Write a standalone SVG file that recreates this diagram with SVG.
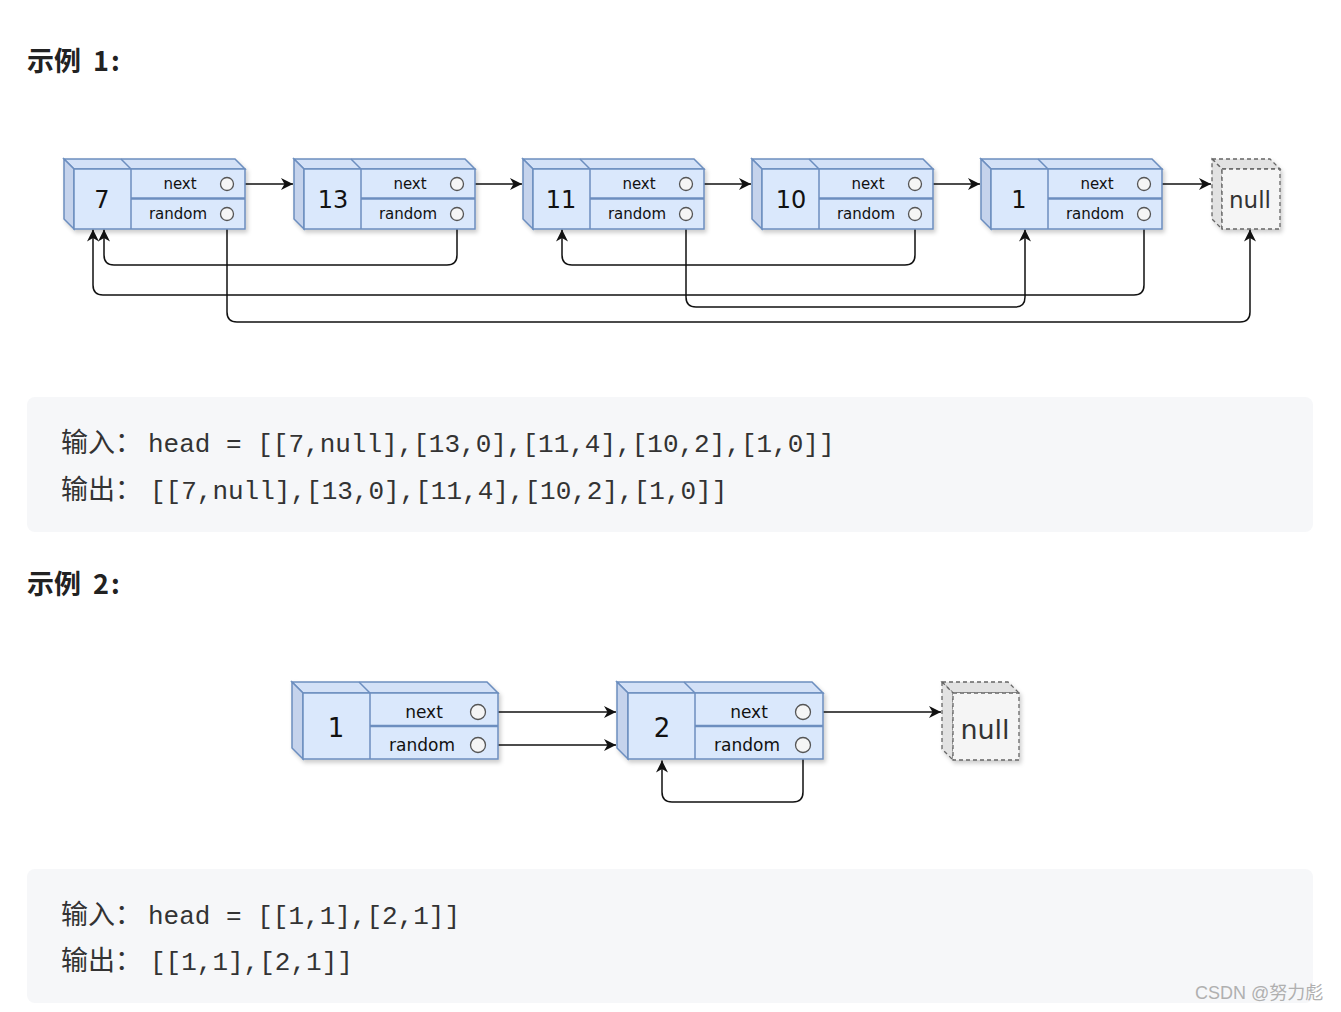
<svg xmlns="http://www.w3.org/2000/svg" xmlns:xlink="http://www.w3.org/1999/xlink" width="1341" height="1012" viewBox="0 0 1341 1012">
<style>
.h{font-family:"Noto Sans CJK SC","Noto Sans",sans-serif;font-size:27px;font-weight:bold;fill:#222}
.cbox{fill:#f6f7f9}
.cj{font-family:"Noto Sans CJK SC",sans-serif;font-size:27px;fill:#333}
.mono{font-family:"Liberation Mono","DejaVu Sans Mono",monospace;font-size:26px;fill:#333}
.face{fill:#dae8fc;stroke:#6c8ebf;stroke-width:1.5}
.top{fill:#d3e1f7;stroke:#6c8ebf;stroke-width:1.5}
.side{fill:#c5d3ec;stroke:#6c8ebf;stroke-width:1.5}
.ln{stroke:#6c8ebf;stroke-width:1.5;fill:none}
.ln2{stroke:#6c8ebf;stroke-width:2.5;fill:none}
.dot{fill:#f5f5f5;stroke:#555;stroke-width:1.3}
.nf{fill:#f5f5f5;stroke:#666;stroke-width:1.3;stroke-dasharray:4 3}
.ns{fill:#e2e2e2;stroke:#666;stroke-width:1.3;stroke-dasharray:4 3}
.val{font-family:"DejaVu Sans","Noto Sans",sans-serif;fill:#111;text-anchor:middle;dominant-baseline:central}
.lab{font-family:"DejaVu Sans","Noto Sans",sans-serif;fill:#111;text-anchor:middle;dominant-baseline:central}
.nul{font-family:"DejaVu Sans","Noto Sans",sans-serif;fill:#333;text-anchor:middle;dominant-baseline:central}
.c{fill:none;stroke:#111;stroke-width:1.5;marker-end:url(#arr)}
.wm{font-family:"Liberation Sans","Noto Sans CJK SC",sans-serif;font-size:18px;fill:#b0b0b0}
</style>
<defs>
<marker id="arr" markerWidth="13" markerHeight="12" refX="12" refY="6" orient="auto" markerUnits="userSpaceOnUse">
<path d="M0,0 L12,6 L0,12 L3.5,6 Z" fill="#111"/>
</marker>
<filter id="sh" x="-10%" y="-10%" width="130%" height="140%">
<feDropShadow dx="2" dy="3" stdDeviation="2" flood-color="#000" flood-opacity="0.2"/>
</filter>
<g id="cube1">
<g filter="url(#sh)">
<polygon class="top" points="0,0 171,0 181,10 10,10"/>
<polygon class="side" points="0,0 10,10 10,70 0,60"/>
<rect class="face" x="10" y="10" width="171" height="60"/>
</g>
<line class="ln" x1="57" y1="0" x2="67" y2="10"/>
<line class="ln" x1="67" y1="10" x2="67" y2="70"/>
<line class="ln2" x1="67" y1="39.5" x2="181" y2="39.5"/>
<circle class="dot" cx="163" cy="25" r="6.5"/>
<circle class="dot" cx="163" cy="55" r="6.5"/>
</g>
<g id="cube2">
<g filter="url(#sh)">
<polygon class="top" points="0,0 195,0 206,11 11,11"/>
<polygon class="side" points="0,0 11,11 11,77 0,66"/>
<rect class="face" x="11" y="11" width="195" height="66"/>
</g>
<line class="ln" x1="67" y1="0" x2="78" y2="11"/>
<line class="ln" x1="78" y1="11" x2="78" y2="77"/>
<line class="ln2" x1="78" y1="44" x2="206" y2="44"/>
<circle class="dot" cx="186" cy="30" r="7.5"/>
<circle class="dot" cx="186" cy="63" r="7.5"/>
</g>
</defs>
<rect width="1341" height="1012" fill="#fff"/>

<text class="h" x="27" y="71">示例<tspan x="93">1</tspan><tspan x="111">:</tspan></text>

<g id="connectors1">
<path class="c" d="M233.5,184 H293"/>
<path class="c" d="M463.5,184 H522"/>
<path class="c" d="M692.5,184 H751"/>
<path class="c" d="M921.5,184 H980"/>
<path class="c" d="M1150.5,184 H1211"/>
<path class="c" d="M457,220.5 V255 Q457,265 447,265 H114 Q104,265 104,255 V229.5"/>
<path class="c" d="M227,220.5 V312 Q227,322 237,322 H1240 Q1250,322 1250,312 V229.5"/>
<path class="c" d="M686,220.5 V297 Q686,307 696,307 H1015 Q1025,307 1025,297 V229.5"/>
<path class="c" d="M915,220.5 V255 Q915,265 905,265 H572 Q562,265 562,255 V229.5"/>
<path class="c" d="M1144,220.5 V285 Q1144,295 1134,295 H103 Q93,295 93,285 V229.5"/>
</g>

<g id="n7" transform="translate(64,159)">
<use xlink:href="#cube1"/>
<text class="val" x="38" y="41" font-size="24">7</text>
<text class="lab" x="116" y="25" font-size="15">next</text>
<text class="lab" x="114" y="55" font-size="15">random</text>
</g>
<g id="n13" transform="translate(294,159)">
<use xlink:href="#cube1"/>
<text class="val" x="39" y="41" font-size="24">13</text>
<text class="lab" x="116" y="25" font-size="15">next</text>
<text class="lab" x="114" y="55" font-size="15">random</text>
</g>
<g id="n11" transform="translate(523,159)">
<use xlink:href="#cube1"/>
<text class="val" x="38" y="41" font-size="24">11</text>
<text class="lab" x="116" y="25" font-size="15">next</text>
<text class="lab" x="114" y="55" font-size="15">random</text>
</g>
<g id="n10" transform="translate(752,159)">
<use xlink:href="#cube1"/>
<text class="val" x="39" y="41" font-size="24">10</text>
<text class="lab" x="116" y="25" font-size="15">next</text>
<text class="lab" x="114" y="55" font-size="15">random</text>
</g>
<g id="n1" transform="translate(981,159)">
<use xlink:href="#cube1"/>
<text class="val" x="38" y="41" font-size="24">1</text>
<text class="lab" x="116" y="25" font-size="15">next</text>
<text class="lab" x="114" y="55" font-size="15">random</text>
</g>
<g id="null1" transform="translate(1212,159)">
<g filter="url(#sh)">
<polygon class="ns" points="0,0 58,0 68,10 10,10"/>
<polygon class="ns" points="0,0 10,10 10,70 0,60"/>
<rect class="nf" x="10" y="10" width="58" height="60"/>
</g>
<text class="nul" x="38" y="41" font-size="23">null</text>
</g>

<g id="code1">
<rect class="cbox" x="27" y="397" width="1286" height="135" rx="8"/>
<text class="cj" x="61" y="452">输入：</text>
<text class="mono" x="148" y="452">head = [[7,null],[13,0],[11,4],[10,2],[1,0]]</text>
<text class="cj" x="61" y="499">输出：</text>
<text class="mono" x="150" y="499">[[7,null],[13,0],[11,4],[10,2],[1,0]]</text>
</g>

<text class="h" x="27" y="594">示例<tspan x="93">2</tspan><tspan x="111">:</tspan></text>

<g id="connectors2">
<path class="c" d="M485.5,712 H616"/>
<path class="c" d="M485.5,745 H616"/>
<path class="c" d="M810.5,712 H941"/>
<path class="c" d="M803,752.5 V792 Q803,802 793,802 H672 Q662,802 662,792 V760.5"/>
</g>

<g id="m1" transform="translate(292,682)">
<use xlink:href="#cube2"/>
<text class="val" x="44" y="46" font-size="26">1</text>
<text class="lab" x="132" y="30" font-size="17">next</text>
<text class="lab" x="130" y="63" font-size="17">random</text>
</g>
<g id="m2" transform="translate(617,682)">
<use xlink:href="#cube2"/>
<text class="val" x="45" y="46" font-size="26">2</text>
<text class="lab" x="132" y="30" font-size="17">next</text>
<text class="lab" x="130" y="63" font-size="17">random</text>
</g>
<g id="null2" transform="translate(942,682)">
<g filter="url(#sh)">
<polygon class="ns" points="0,0 66,0 77,11 11,11"/>
<polygon class="ns" points="0,0 11,11 11,78 0,67"/>
<rect class="nf" x="11" y="11" width="66" height="67"/>
</g>
<text class="nul" x="43" y="47" font-size="27">null</text>
</g>

<g id="code2">
<rect class="cbox" x="27" y="869" width="1286" height="134" rx="8"/>
<text class="cj" x="61" y="924">输入：</text>
<text class="mono" x="148" y="924">head = [[1,1],[2,1]]</text>
<text class="cj" x="61" y="970">输出：</text>
<text class="mono" x="150" y="970">[[1,1],[2,1]]</text>
</g>

<text class="wm" x="1195" y="999">CSDN @努力彪</text>
</svg>
